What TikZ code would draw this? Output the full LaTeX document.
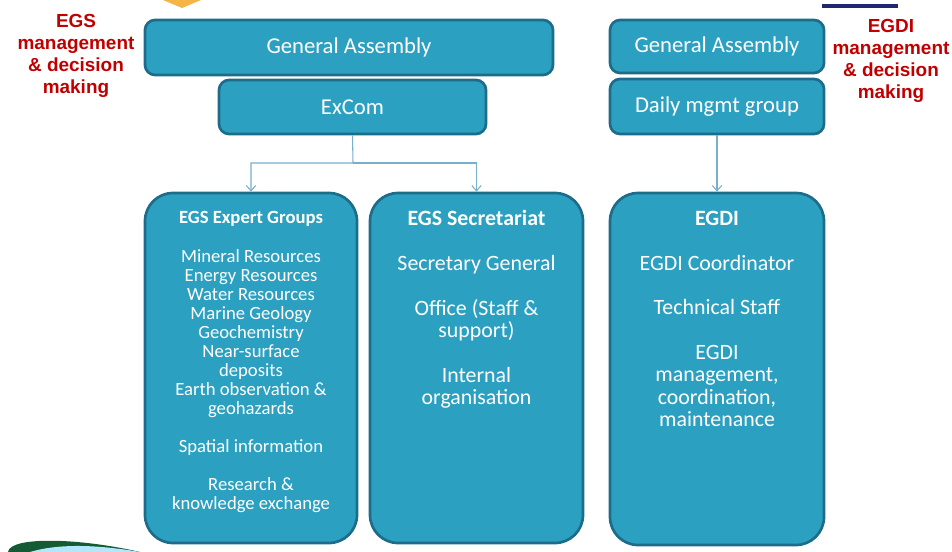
\documentclass[tikz,border=0pt]{standalone}
\usepackage{fontspec}
\setmainfont{Carlito}
\newfontfamily\labelfont{Liberation Sans}
\usetikzlibrary{arrows.meta,positioning,fit}
\definecolor{boxfill}{RGB}{43,160,192}
\definecolor{boxline}{RGB}{29,108,138}
\definecolor{linkblue}{RGB}{120,175,205}
\definecolor{darkred}{RGB}{192,0,0}
\definecolor{gold}{RGB}{245,180,70}
\definecolor{navy}{RGB}{30,40,110}
\definecolor{darkgreen}{RGB}{20,90,50}

\begin{document}
\begin{tikzpicture}[x=.75pt,y=-.75pt,>={Straight Barb[length=4pt,width=7pt]},
  topbox/.style={draw=boxline,line width=2pt,fill=boxfill,rounded corners=7.5pt,
    inner sep=0pt,text=white,font=\fontsize{17}{20}\selectfont},
  bigbox/.style={draw=boxline,line width=2pt,fill=boxfill,rounded corners=21pt,inner sep=0pt},
  boxtext/.style={inner sep=0pt,text=white,align=center},
  redlabel/.style={text=darkred,align=center,font=\labelfont\bfseries\fontsize{14.2}{16.5}\selectfont},
  link/.style={draw=linkblue,line width=.8pt,->}]
\useasboundingbox (0,0) rectangle (952,552);
% slide decorations
\fill[gold] (163,0) -- (201,0) -- (182,8) -- cycle;
\fill[navy] (822,4) rectangle (898,8);
\fill[darkgreen] (8,552) .. controls (10,536) and (80,538) .. (140,552) -- cycle;
\fill[white!70!cyan] (30,552) .. controls (60,543) and (100,545) .. (140,552) -- cycle;
% EGS side
\node[topbox,minimum width=306pt,minimum height=41.25pt] (egsga) at (349,47.5) {General Assembly};
\node[topbox,minimum width=200.25pt,minimum height=40.5pt] (excom) at (352.5,107) {ExCom};
\node[bigbox,fit={(145,193) (357,543)}] (expert) {};
\node[bigbox,fit={(370,193) (583,543)}] (secr) {};
% EGDI side
\node[topbox,minimum width=160.5pt,minimum height=39.75pt] (egdiga) at (717,46.5) {General Assembly};
\node[topbox,minimum width=160.5pt,minimum height=41.25pt] (daily) at (717,106.5) {Daily mgmt group};
\node[bigbox,fit={(610,193) (824,545)}] (egdi) {};
% box contents
\node[boxtext,font=\fontsize{14}{14.3}\selectfont,below=14.8pt of expert.north] (experttxt)
  {\textbf{EGS Expert Groups}\\[\baselineskip]
   Mineral Resources\\Energy Resources\\Water Resources\\Marine Geology\\Geochemistry\\
   Near-surface\\deposits\\Earth observation \&\\geohazards\\[\baselineskip]
   Spatial information\\[\baselineskip]
   Research \&\\knowledge exchange};
\node[boxtext,font=\fontsize{16.4}{16.8}\selectfont,below=13.8pt of secr.north] (secrtxt)
  {\textbf{EGS Secretariat}\\[\baselineskip]
   Secretary General\\[\baselineskip]
   Office (Staff \&\\support)\\[\baselineskip]
   Internal\\organisation};
\node[boxtext,font=\fontsize{16.4}{16.75}\selectfont,below=14.5pt of egdi.north] (egditxt)
  {\textbf{EGDI}\\[\baselineskip]
   EGDI Coordinator\\[\baselineskip]
   Technical Staff\\[\baselineskip]
   EGDI\\management,\\coordination,\\maintenance};
% side labels
\node[redlabel] (egslbl) at (76,55.5) {EGS\\management\\\& decision\\making};
\node[redlabel] (egdilbl) at (891,60.5) {EGDI\\management\\\& decision\\making};
% connectors
\coordinate (split) at (353,163);
\draw[link] (excom.south) -- (split) -| (expert.north);
\draw[link] (split) -| (secr.north);
\draw[link] (daily.south) -- (egdi.north);
\end{tikzpicture}
\end{document}
